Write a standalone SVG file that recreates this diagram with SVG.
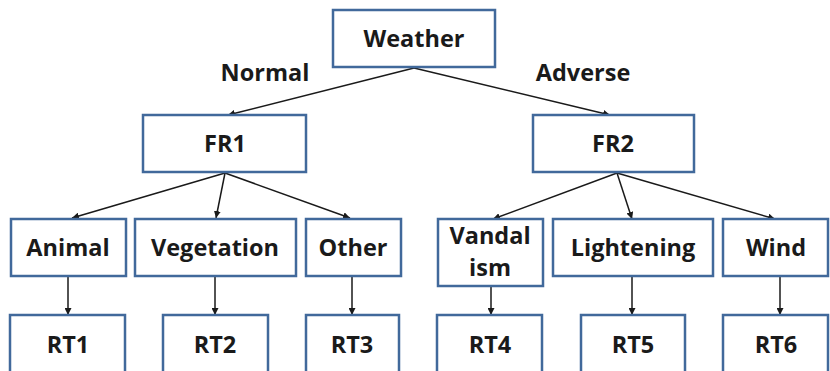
<svg xmlns="http://www.w3.org/2000/svg" width="830" height="371" viewBox="0 0 830 371">
<style>
.box{fill:#fff;stroke:#41699b;stroke-width:2.5}
.t{font-family:"Open Sans","Liberation Sans",sans-serif;font-weight:bold;font-size:23.5px;fill:#1a1a1a;text-anchor:middle}
.c{stroke:#1a1a1a;stroke-width:1.5;fill:none;marker-end:url(#ah)}
</style>
<defs>
<marker id="ah" viewBox="0 0 10 10" refX="10" refY="5" markerWidth="7" markerHeight="7" markerUnits="userSpaceOnUse" orient="auto">
<path d="M0,0 L10,5 L0,10 z" fill="#1a1a1a"/>
</marker>
</defs>
<rect width="830" height="371" fill="#fff"/>
<g id="connectors">
<line class="c" x1="414" y1="68" x2="228" y2="115"/>
<line class="c" x1="414" y1="68" x2="610" y2="115"/>
<line class="c" x1="225" y1="173" x2="72" y2="218"/>
<line class="c" x1="225" y1="173" x2="216" y2="218"/>
<line class="c" x1="225" y1="173" x2="350" y2="218"/>
<line class="c" x1="617" y1="173" x2="493" y2="219"/>
<line class="c" x1="617" y1="173" x2="632" y2="219"/>
<line class="c" x1="617" y1="173" x2="775" y2="219"/>
<line class="c" x1="68" y1="277" x2="68" y2="315"/>
<line class="c" x1="215" y1="277" x2="215" y2="315"/>
<line class="c" x1="352" y1="277" x2="352" y2="315"/>
<line class="c" x1="491" y1="287" x2="491" y2="315"/>
<line class="c" x1="632" y1="277" x2="632" y2="315"/>
<line class="c" x1="780" y1="277" x2="780" y2="315"/>
<text class="t" x="265" y="81">Normal</text>
<text class="t" x="583" y="81">Adverse</text>
</g>
<g id="weather"><rect class="box" x="333" y="10" width="162" height="57"/><text class="t" x="414" y="47">Weather</text></g>
<g id="fr1"><rect class="box" x="143" y="115" width="163" height="57"/><text class="t" x="225" y="152">FR1</text></g>
<g id="fr2"><rect class="box" x="533" y="115" width="161" height="57"/><text class="t" x="613" y="152">FR2</text></g>
<g id="animal"><rect class="box" x="11" y="219" width="115" height="57"/><text class="t" x="68" y="256">Animal</text></g>
<g id="vegetation"><rect class="box" x="135" y="219" width="161" height="57"/><text class="t" x="215" y="256">Vegetation</text></g>
<g id="other"><rect class="box" x="306" y="219" width="95" height="57"/><text class="t" x="353" y="256">Other</text></g>
<g id="vandalism"><rect class="box" x="438" y="219" width="105" height="67"/><text class="t" x="490" y="244">Vandal</text><text class="t" x="490" y="276">ism</text></g>
<g id="lightening"><rect class="box" x="553" y="219" width="160" height="57"/><text class="t" x="633" y="256">Lightening</text></g>
<g id="wind"><rect class="box" x="723" y="219" width="105" height="57"/><text class="t" x="776" y="256">Wind</text></g>
<g id="rt1"><rect class="box" x="10" y="315" width="115" height="60"/><text class="t" x="68" y="353">RT1</text></g>
<g id="rt2"><rect class="box" x="163" y="315" width="105" height="60"/><text class="t" x="215" y="353">RT2</text></g>
<g id="rt3"><rect class="box" x="306" y="315" width="93" height="60"/><text class="t" x="352" y="353">RT3</text></g>
<g id="rt4"><rect class="box" x="437" y="315" width="105" height="60"/><text class="t" x="490" y="353">RT4</text></g>
<g id="rt5"><rect class="box" x="581" y="315" width="104" height="60"/><text class="t" x="633" y="353">RT5</text></g>
<g id="rt6"><rect class="box" x="723" y="315" width="105" height="60"/><text class="t" x="776" y="353">RT6</text></g>
</svg>
